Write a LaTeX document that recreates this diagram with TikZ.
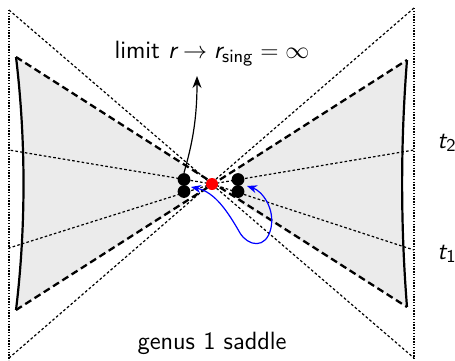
\documentclass[tikz,border=0pt]{standalone}
\usetikzlibrary{arrows.meta}
\begin{document}
\begin{tikzpicture}[x=0.5pt,y=-0.5pt,
  frameline/.style={line width=0.55pt, dash pattern=on 0.7pt off 0.7pt},
  thinline/.style={line width=0.6pt, dash pattern=on 1.3pt off 1.1pt},
  horizon/.style={line width=1.15pt, dash pattern=on 3.5pt off 2pt},
  bdry/.style={line width=1.1pt},
  blackdot/.style={circle, fill=black, inner sep=0pt, minimum size=6.4pt},
  reddot/.style={circle, fill=red, inner sep=0pt, minimum size=6pt},
  lbl/.style={font=\sffamily\fontsize{12.5}{15}\selectfont, inner sep=0pt},
  shade/.style={fill=gray!16}]
\useasboundingbox (0,0) rectangle (455,360);
% coordinates
\coordinate (C) at (212,184);
\coordinate (FLT) at (9,10);  \coordinate (FLB) at (9,360);
\coordinate (FRT) at (414,8); \coordinate (FRB) at (414,360);
\coordinate (DLT) at (9,358); \coordinate (DRB) at (414,358);
\coordinate (LT) at (16,57);  \coordinate (LB) at (16,310);
\coordinate (RT) at (407,60); \coordinate (RB) at (407,307);
\coordinate (T2L) at (9,150); \coordinate (T1L) at (9,248);
\coordinate (T2R) at (414,150); \coordinate (T1R) at (414,250);
% shaded regions
\fill[shade] (LT) .. controls (26,140) and (26,228) .. (LB)
  -- (186,203) .. controls (183,190) and (183,178) .. (186,167) -- cycle;
\fill[shade] (RT) .. controls (400.5,143) and (400.5,225) .. (RB)
  -- (237,201) .. controls (240,189) and (240,178) .. (237,168) -- cycle;
% outer frame
\draw[frameline] (FLT) -- (FLB);
\draw[frameline] (FRT) -- (FRB);
\draw[thinline] (FLT) -- (DRB);
\draw[thinline] (FRT) -- (DLT);
% constant t lines
\draw[thinline] (C) -- (T2L);
\draw[thinline] (C) -- (T1L);
\draw[thinline] (C) -- (T2R);
\draw[thinline] (C) -- (T1R);
% horizons
\draw[horizon] (LT) -- (RB);
\draw[horizon] (LB) -- (RT);
% boundaries
\draw[bdry] (LT) .. controls (26,140) and (26,228) .. (LB);
\draw[bdry] (RT) .. controls (400.5,143) and (400.5,225) .. (RB);
% dots
\node[blackdot] (ul) at (184,179.5) {};
\node[blackdot] (ll) at (184,191.5) {};
\node[blackdot] (ur) at (238,179.5) {};
\node[blackdot] (lr) at (238,191.5) {};
\node[reddot] (red) at (C) {};
% labels
\node[lbl, anchor=base] (lim) at (212,58)
  {limit $\textit{r}\to\textit{r}_{\mathsf{sing}}=\infty$};
\node[lbl, anchor=base west] (t2) at (437,148) {$\textit{t}_{\mathsf{2}}$};
\node[lbl, anchor=base west] (t1) at (437,259) {$\textit{t}_{\mathsf{1}}$};
\node[lbl, anchor=base] (gen) at (212,349) {genus 1 saddle};
% arrows
\coordinate (atip) at (197,76);
\draw[line width=0.6pt, -{Stealth[length=6pt,width=4.5pt]}]
  (ul.north) .. controls (192,145) and (197,120) .. (atip);
\coordinate (bl) at (191,187);
\coordinate (br) at (247,186);
\draw[blue, line width=0.6pt, {Stealth[length=5pt,width=4pt]}-{Stealth[length=5pt,width=4pt]}]
  (bl) .. controls (215,192) and (228,212) .. (240,233)
  .. controls (248,246) and (266,250) .. (271,228)
  .. controls (275,208) and (262,191) .. (br);
\end{tikzpicture}
\end{document}
